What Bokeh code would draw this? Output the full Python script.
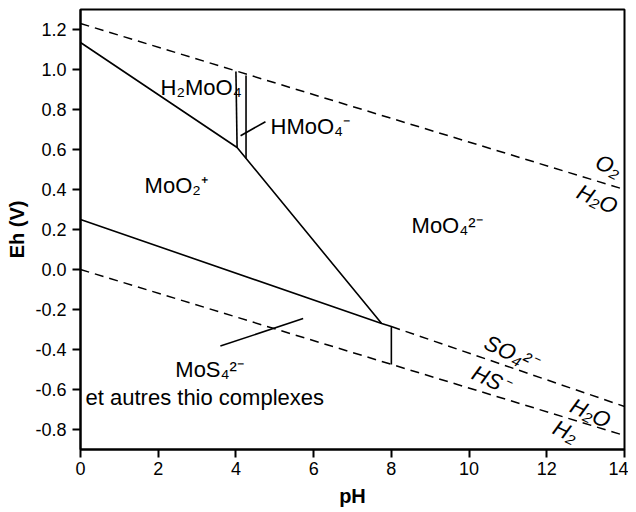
from bokeh.plotting import figure
from bokeh.models import FixedTicker, PrintfTickFormatter, Range1d
from bokeh.core.properties import value
from bokeh.embed import file_html
from bokeh.resources import INLINE

FONT = "Liberation Sans"

# ---- data (pH, Eh in V) ----
x_ticks = [0, 2, 4, 6, 8, 10, 12, 14]
y_ticks = [-0.8, -0.6, -0.4, -0.2, 0.0, 0.2, 0.4, 0.6, 0.8, 1.0, 1.2]

# water stability limits
ph_water = [0, 14]
eh_o2_h2o = [1.23, 0.40]
eh_h2o_h2 = [0.0, -0.83]

# sulfate / sulfide limit
ph_sulfur = [8.0, 14.0]
eh_sulfur = [-0.285, -0.685]

# molybdenum field boundaries
ph_mo_upper = [0.0, 4.03, 7.75]
eh_mo_upper = [1.135, 0.61, -0.27]
ph_mo_lower = [0.0, 7.75, 8.0, 8.0]
eh_mo_lower = [0.25, -0.27, -0.285, -0.475]
ph_h2moo4 = [4.0, 4.03]
eh_h2moo4 = [0.99, 0.61]
ph_hmoo4 = [4.26, 4.26]
eh_hmoo4 = [0.97, 0.555]

# leader lines
ph_lead_hmoo4 = [4.12, 4.76]
eh_lead_hmoo4 = [0.669, 0.739]
ph_lead_mos4 = [3.60, 5.73]
eh_lead_mos4 = [-0.383, -0.245]

# species labels (left / baseline anchored)
species_text = ["H\u2082MoO\u2084", "HMoO\u2084\u207b", "MoO\u2082\u207a", "MoO\u2084\u00b2\u207b",
                "MoS\u2084\u00b2\u207b", "et autres thio complexes"]
species_ph = [2.06, 4.89, 1.65, 8.52, 2.44, 0.13]
species_eh = [0.911, 0.714, 0.422, 0.218, -0.500, -0.639]

# line labels (centred, rotated along the lines)
line_text = ["O\u2082", "H\u2082O", "SO\u2084\u00b2\u207b", "HS\u207b", "H\u2082O", "H\u2082"]
line_ph = [13.59, 13.30, 11.07, 10.55, 13.12, 12.48]
line_eh = [0.518, 0.352, -0.417, -0.550, -0.718, -0.809]

p = figure(width=628, height=510, frame_width=544, frame_height=440,
           x_range=Range1d(0, 14), y_range=Range1d(-0.9, 1.3),
           output_backend="svg", toolbar_location=None,
           min_border_left=80, min_border_top=9, min_border_right=4, min_border_bottom=61)
p.grid.visible = False
p.outline_line_color = "black"
p.outline_line_width = 2
p.background_fill_color = "white"
p.border_fill_color = "white"

p.xaxis.ticker = FixedTicker(ticks=x_ticks)
p.yaxis.ticker = FixedTicker(ticks=y_ticks)
p.yaxis.formatter = PrintfTickFormatter(format="%.1f")
p.xaxis.axis_label = "pH"
p.yaxis.axis_label = "Eh (V)"
for ax in (p.xaxis, p.yaxis):
    ax.axis_line_width = 2
    ax.axis_line_color = "black"
    ax.major_tick_line_width = 2
    ax.major_tick_line_color = "black"
    ax.major_tick_out = 8
    ax.major_tick_in = 0
    ax.minor_tick_line_color = None
    ax.major_label_text_font = FONT
    ax.major_label_text_font_size = "18px"
    ax.major_label_text_color = "black"
    ax.axis_label_text_font = FONT
    ax.axis_label_text_font_size = "20px"
    ax.axis_label_text_font_style = "bold"
    ax.axis_label_text_color = "black"
p.xaxis.major_label_standoff = 4
p.yaxis.major_label_standoff = 6
p.xaxis.axis_label_standoff = 7
p.yaxis.axis_label_standoff = 4

dash = "9 6"
p.line(ph_water, eh_o2_h2o, line_color="black", line_width=1.5, line_dash=dash)
p.line(ph_water, eh_h2o_h2, line_color="black", line_width=1.5, line_dash=dash)
p.line(ph_sulfur, eh_sulfur, line_color="black", line_width=1.5, line_dash=dash)

for xs, ys in [(ph_mo_upper, eh_mo_upper), (ph_mo_lower, eh_mo_lower),
               (ph_h2moo4, eh_h2moo4), (ph_hmoo4, eh_hmoo4),
               (ph_lead_hmoo4, eh_lead_hmoo4), (ph_lead_mos4, eh_lead_mos4)]:
    p.line(xs, ys, line_color="black", line_width=1.6)

p.text(x=species_ph, y=species_eh, text=species_text, text_font=value(FONT),
       text_font_size="22px", text_color="black", text_align="left",
       text_baseline="alphabetic")

p.text(x=line_ph, y=line_eh, text=line_text, text_font=value(FONT),
       text_font_size="22px", text_font_style="italic", text_color="black",
       text_align="center", text_baseline="middle", angle=-25, angle_units="deg")

open("out.html", "w").write(file_html(p, INLINE))
